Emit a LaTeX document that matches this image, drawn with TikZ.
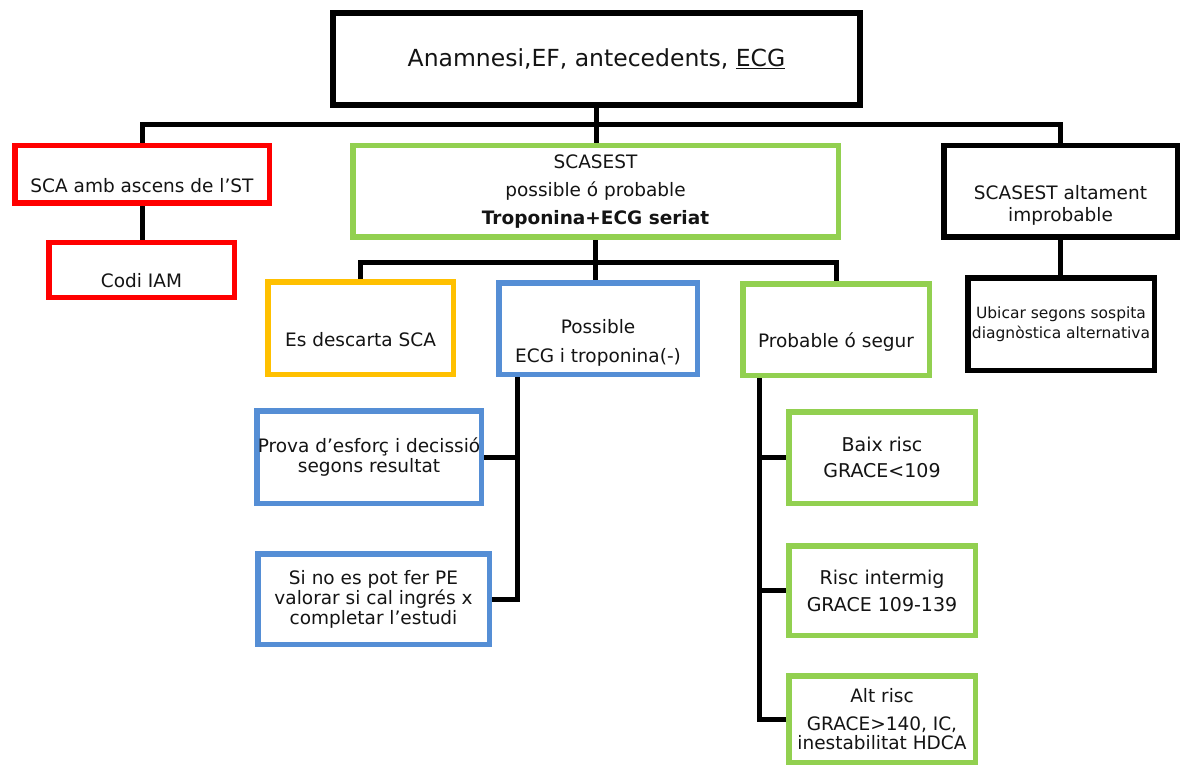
\documentclass[tikz,border=0pt]{standalone}
\usepackage{fontspec}
\setmainfont{DejaVu Sans}
\usetikzlibrary{calc,backgrounds}
\definecolor{cred}{HTML}{FF0000}
\definecolor{cgreen}{HTML}{92D050}
\definecolor{cyellow}{HTML}{FFC000}
\definecolor{cblue}{HTML}{558ED5}
\definecolor{ctext}{HTML}{141414}
\newcommand{\lowtext}[2]{\raisebox{#1}[\height][\depth]{\begin{tabular}{@{}c@{}}#2\end{tabular}}}
\begin{document}
\begin{tikzpicture}[x=1pt,y=-1pt,
  box/.style={draw=#1, line width=5.5pt, fill=white, inner sep=0pt, align=center,
    text=ctext, font=\fontsize{18.5}{22}\selectfont},
  conn/.style={line width=5pt, draw=black, line join=miter}]
\useasboundingbox (0,0) rectangle (1182,767);

% level 0
\node[box=black, line width=6pt, minimum width=527pt, minimum height=92pt,
  font=\fontsize{23.5}{28}\selectfont] (top) at (596.5,59)
  {\raisebox{2pt}{Anamnesi,EF, antecedents, \underline{ECG}}};

% level 1
\node[box=cred, minimum width=254.5pt, minimum height=57.5pt] (sca) at (142,174.5)
  {\lowtext{-13.8pt}{SCA amb ascens de l’ST}};
\node[box=cgreen, minimum width=485.5pt, minimum height=91.5pt,
  font=\fontsize{18.5}{28}\selectfont] (scasest) at (595.5,191.5)
  {SCASEST\\possible ó probable\\\textbf{Troponina+ECG seriat}};
\node[box=black, minimum width=233.5pt, minimum height=91.5pt] (improb) at (1060.5,191.5)
  {\lowtext{-15pt}{SCASEST altament\\improbable}};

% level 2
\node[box=cred, minimum width=185.5pt, minimum height=54.5pt] (codi) at (141.5,270)
  {\lowtext{-13.3pt}{Codi IAM}};
\node[box=black, minimum width=186.5pt, minimum height=92.5pt,
  font=\fontsize{15.5}{20}\selectfont] (ubicar) at (1061,324)
  {Ubicar segons sospita\\diagnòstica alternativa};
\node[box=cyellow, minimum width=185.5pt, minimum height=92.5pt] (descarta) at (360.5,328)
  {\lowtext{-14.3pt}{Es descarta SCA}};
\node[box=cblue, minimum width=198.5pt, minimum height=91.5pt,
  font=\fontsize{18.5}{29}\selectfont] (possible) at (598,328.5)
  {\lowtext{-13.6pt}{Possible\\ECG i troponina(-)}};
\node[box=cgreen, minimum width=186.5pt, minimum height=91.5pt] (probable) at (836,329.5)
  {\lowtext{-13.8pt}{Probable ó segur}};

% level 3 - possible
\node[box=cblue, minimum width=224.5pt, minimum height=92.5pt,
  font=\fontsize{18.5}{20}\selectfont] (prova) at (369,457)
  {Prova d’esforç i decissió\\segons resultat};
\node[box=cblue, minimum width=231.5pt, minimum height=90.5pt,
  font=\fontsize{18.5}{20}\selectfont] (sino) at (373.5,599)
  {Si no es pot fer PE\\valorar si cal ingrés x\\completar l’estudi};

% level 3 - probable
\node[box=cgreen, minimum width=186.5pt, minimum height=91.5pt,
  font=\fontsize{19}{26}\selectfont] (baix) at (882,457.5)
  {Baix risc\\GRACE<109};
\node[box=cgreen, minimum width=186.5pt, minimum height=89.5pt,
  font=\fontsize{19}{27}\selectfont] (intermig) at (882,590.5)
  {Risc intermig\\GRACE 109-139};
\node[box=cgreen, minimum width=186.5pt, minimum height=86.5pt,
  font=\fontsize{18.5}{19}\selectfont] (alt) at (882,719)
  {Alt risc\\[9pt]GRACE>140, IC,\\inestabilitat HDCA};

% connectors
\coordinate (bus) at (0,125);
\coordinate (sbus) at (0,262);
\coordinate (vx) at (517,0);
\coordinate (px) at (759,0);
\begin{scope}[on background layer]
\draw[conn] (sca.north) |- (top.south |- bus) -| (improb.north);
\draw[conn] (top.south) -- (top.south |- scasest.north);
\draw[conn] (sca.south) -- (sca.south |- codi.north);
\draw[conn] (improb.south) -- (improb.south |- ubicar.north);
\draw[conn] (scasest.south) -- (scasest.south |- possible.north);
\draw[conn] (descarta.north) |- (scasest.south |- sbus) -| (probable.north);
\draw[conn] (possible.south -| vx) |- (prova.east);
\draw[conn] (possible.south -| vx) |- (sino.east);
\draw[conn] (probable.south -| px) |- (baix.west);
\draw[conn] (probable.south -| px) |- (intermig.west);
\draw[conn] (probable.south -| px) |- (alt.west);
\end{scope}
\end{tikzpicture}
\end{document}
